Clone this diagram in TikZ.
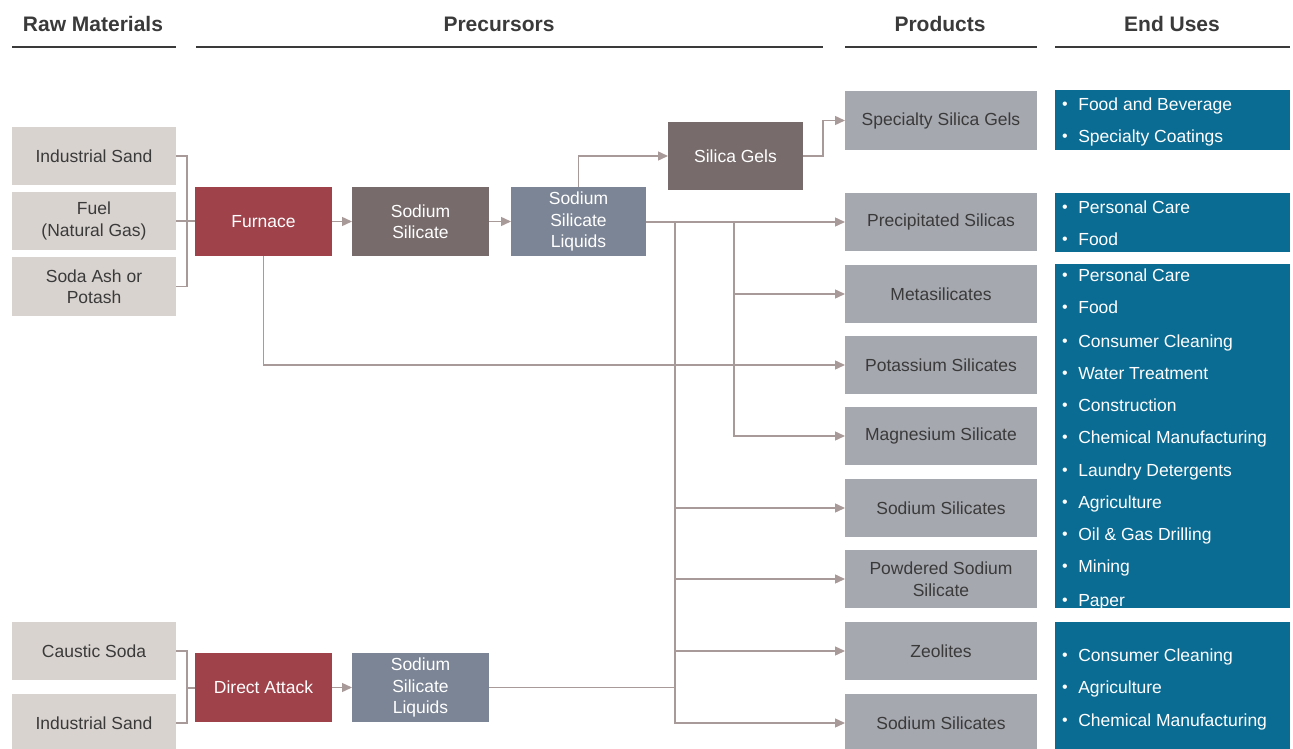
\documentclass[tikz,border=0pt]{standalone}
\usepackage{fontspec}
\setmainfont{Liberation Sans}
\usetikzlibrary{arrows.meta}
\definecolor{rawc}{HTML}{D9D3D0}
\definecolor{furn}{HTML}{A0424A}
\definecolor{taupe}{HTML}{776B6B}
\definecolor{slate}{HTML}{7C8595}
\definecolor{prodc}{HTML}{A6A8B0}
\definecolor{euc}{HTML}{0A6B93}
\definecolor{conn}{HTML}{A89A98}
\definecolor{txt}{HTML}{3A3A3A}
\newcommand\eubul{\raisebox{0.8pt}{\fontsize{16}{16}\selectfont •}\hspace{10.5pt}}
\begin{document}
\begin{tikzpicture}[x=1pt,y=-1pt,
  box/.style={inner sep=0pt, outer sep=0pt, align=center, font=\fontsize{17.5}{21.5}\selectfont},
  rawbox/.style={box, fill=rawc, text=txt, minimum width=164, minimum height=58},
  redbox/.style={box, fill=furn, text=white, minimum width=137, minimum height=69},
  taupebox/.style={box, fill=taupe, text=white, minimum width=137, minimum height=69},
  slatebox/.style={box, fill=slate, text=white, minimum width=137, minimum height=69},
  prodbox/.style={box, fill=prodc, text=txt, minimum width=192, minimum height=58},
  eubox/.style={inner sep=0pt, outer sep=0pt, fill=euc, minimum width=235},
  eutext/.style={anchor=base west, inner sep=0pt, text=white, font=\fontsize{17.5}{21}\selectfont},
  head/.style={inner sep=0pt, text=txt, font=\bfseries\fontsize{21}{25}\selectfont},
  headline/.style={draw=txt, line width=1.8pt},
  conline/.style={draw=conn, line width=1.4pt},
  arr/.style={conline, -{Triangle[length=10pt,width=9pt]}}
]
\useasboundingbox (0,0) rectangle (1293,749);
\clip (0,0) rectangle (1293,749);

% headers
\node[head] (hraw) at (93,24) {Raw Materials};
\node[head] (hpre) at (499,24) {Precursors};
\node[head] (hpro) at (940,24) {Products};
\node[head] (heu) at (1172,24) {End Uses};
\draw[headline] (12,47) -- (176,47);
\draw[headline] (196,47) -- (823,47);
\draw[headline] (845,47) -- (1037,47);
\draw[headline] (1055,47) -- (1290,47);

% raw materials
\node[rawbox] (rs1) at (94,156) {Industrial Sand};
\node[rawbox] (fuel) at (94,221) {Fuel\\(Natural Gas)};
\node[rawbox, minimum height=59] (soda) at (94,286.5) {Soda Ash or\\Potash};
\node[rawbox] (caustic) at (94,651) {Caustic Soda};
\node[rawbox] (rs2) at (94,723) {Industrial Sand};

% precursors
\node[redbox] (furnace) at (263.5,221.5) {Furnace};
\node[taupebox] (sodsil) at (420.5,221.5) {Sodium\\Silicate};
\node[slatebox, minimum width=135] (ssl1) at (578.5,221.5) {Sodium\\Silicate\\Liquids};
\node[taupebox, minimum width=135, minimum height=68] (silgel) at (735.5,156) {Silica Gels};
\node[redbox] (direct) at (263.5,687.5) {Direct Attack};
\node[slatebox] (ssl2) at (420.5,687.5) {Sodium\\Silicate\\Liquids};

% products
\node[prodbox, minimum height=59] (spec) at (941,120.5) {Specialty Silica Gels};
\node[prodbox] (precip) at (941,222) {Precipitated Silicas};
\node[prodbox] (meta) at (941,294) {Metasilicates};
\node[prodbox] (potass) at (941,365) {Potassium Silicates};
\node[prodbox] (magn) at (941,436) {Magnesium Silicate};
\node[prodbox] (sodsilA) at (941,508) {Sodium Silicates};
\node[prodbox] (powd) at (941,579) {Powdered Sodium\\Silicate};
\node[prodbox] (zeol) at (941,651) {Zeolites};
\node[prodbox] (sodsilB) at (941,723) {Sodium Silicates};

% end uses
\node[eubox, minimum height=60] (eu1) at (1172.5,120) {};
\node[eubox, minimum height=59] (eu2) at (1172.5,222.5) {};
\node[eubox, minimum height=344] (eu3) at (1172.5,436) {};
\node[eubox, minimum height=138] (eu4) at (1172.5,691) {};

\foreach \yy/\tt [count=\i] in {104/Food and Beverage, 136/Specialty Coatings}
  \node[eutext] (ua\i) at (1062,\yy+6.3) {\eubul\tt};
\foreach \yy/\tt [count=\i] in {207/Personal Care, 239/Food}
  \node[eutext] (ub\i) at (1062,\yy+6.3) {\eubul\tt};
\foreach \yy/\tt [count=\i] in {275/Personal Care, 307/Food, 341/Consumer Cleaning,
   373/Water Treatment, 405/Construction, 437/Chemical Manufacturing,
   470/Laundry Detergents, 502/Agriculture, 534/Oil \& Gas Drilling,
   566/Mining, 600/Paper}
  \node[eutext] (uc\i) at (1062,\yy+6.3) {\eubul\tt};
\foreach \yy/\tt [count=\i] in {655/Consumer Cleaning, 687/Agriculture, 720/Chemical Manufacturing}
  \node[eutext] (ud\i) at (1062,\yy+6.3) {\eubul\tt};

% connectors
\coordinate (bk1) at (187,221);
\coordinate (bk2) at (187,688);
\coordinate (sgk) at (823,156);
\coordinate (j1) at (675,222);
\coordinate (j2) at (734,222);

\draw[conline] (rs1.east) -| (bk1) |- (soda.east);
\draw[conline] (fuel.east) -- (furnace.west |- fuel.east);
\draw[arr] (furnace.east) -- (sodsil.west);
\draw[arr] (sodsil.east) -- (ssl1.west);
\draw[arr] (ssl1.north) |- (silgel.west);
\draw[arr] (silgel.east) -- (sgk) |- (spec.west);
\draw[arr] (ssl1.east |- precip.west) -- (precip.west);
\draw[arr] (j2) |- (meta.west);
\draw[arr] (j2) |- (magn.west);
\draw[arr] (furnace.south) |- (potass.west);
\draw[arr] (j1) |- (sodsilA.west);
\draw[arr] (j1) |- (powd.west);
\draw[arr] (j1) |- (zeol.west);
\draw[arr] (j1) |- (sodsilB.west);

\draw[conline] (caustic.east) -| (bk2) |- (rs2.east);
\draw[conline] (bk2) -- (direct.west |- bk2);
\draw[arr] (direct.east) -- (ssl2.west);
\draw[conline] (ssl2.east) -- (ssl2.east -| j1);
\end{tikzpicture}
\end{document}
